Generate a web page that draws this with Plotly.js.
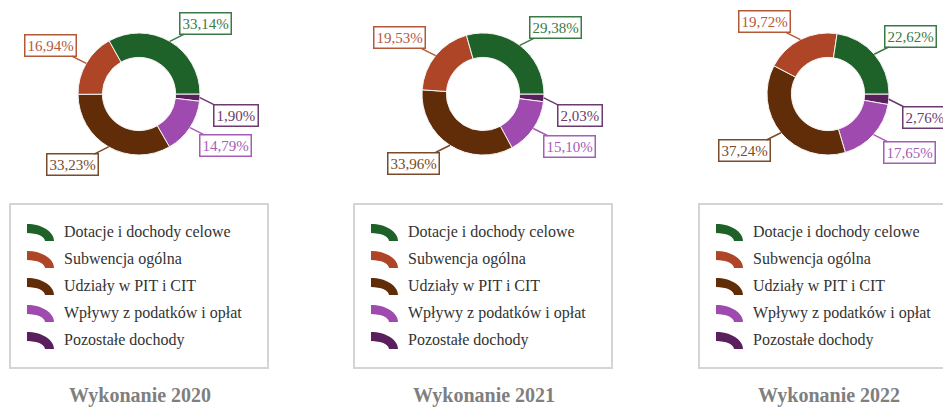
<!DOCTYPE html>
<html><head><meta charset="utf-8">
<script src="https://cdn.plot.ly/plotly-3.0.1.min.js"></script>
<style>html,body{margin:0;padding:0;background:#fff;} #chart{width:943px;height:407px;}</style>
</head><body><div id="chart"></div>
<script>
const categories = ["Dotacje i dochody celowe","Subwencja ogólna","Udziały w PIT i CIT","Wpływy z podatków i opłat","Pozostałe dochody"];
const years = ["Wykonanie 2020","Wykonanie 2021","Wykonanie 2022"];
const values2020 = [33.14,16.94,33.23,14.79,1.90];
const values2021 = [29.38,19.53,33.96,15.10,2.03];
const values2022 = [22.62,19.72,37.24,17.65,2.76];
const sliceColors = ['#1e6229','#ae4526','#612d08','#9e4aaf','#5a1f5d'];
const labelColors = ['#3a7a44','#b4583a','#7a4b2a','#a55db5','#6b3a6e'];

const W = 943, H = 407;
const px = x => x / W;
const py = y => 1 - y / H;
const centersX = [139, 483, 828];
const CY = 94, R = 61;
const series = [values2020, values2021, values2022];
const FONT = 'Liberation Serif, Times New Roman, serif';

const data = [];
const shapes = [];
const annotations = [];
const k = 0.5523;

series.forEach((vals, i) => {
  const cx = centersX[i];
  // drawn clockwise from 3 o'clock in reverse order == counterclockwise in original order
  data.push({
    type: 'pie', values: vals.slice().reverse(), labels: categories.slice().reverse(), sort: false,
    direction: 'clockwise', rotation: 90, hole: 0.6,
    textinfo: 'none', showlegend: false,
    marker: {colors: sliceColors.slice().reverse(), line: {color: '#f4f4f4', width: 1}},
    domain: {x: [px(cx - R), px(cx + R)], y: [py(CY + R), py(CY - R)]}
  });
  // value labels
  const total = vals.reduce((a, b) => a + b, 0);
  let cum = 0;
  vals.forEach((v, j) => {
    const mid = (cum + v / 2) / total * 2 * Math.PI;
    cum += v;
    const tx = cx + R * Math.cos(mid);
    const ty = CY - R * Math.sin(mid);
    annotations.push({
      xref: 'paper', yref: 'paper', x: px(tx), y: py(ty),
      ax: Math.sign(Math.cos(mid)) * 36, ay: -Math.sign(Math.sin(mid)) * 18,
      showarrow: true, arrowhead: 0, arrowwidth: 1.5, arrowcolor: labelColors[j], standoff: 0,
      text: v.toFixed(2).replace('.', ',') + '%',
      font: {family: FONT, size: 15, color: labelColors[j]},
      bgcolor: '#ffffff', bordercolor: labelColors[j], borderwidth: 1.5, borderpad: 2
    });
  });
  // legend box
  shapes.push({type: 'rect', xref: 'paper', yref: 'paper',
    x0: px(cx - 129), x1: px(cx + 129), y0: py(368), y1: py(204),
    line: {color: '#d4d4d4', width: 2}, fillcolor: 'rgba(0,0,0,0)'});
  categories.forEach((c, j) => {
    const top = 224 + 27 * j, bottom = top + 17, th = 9;
    const L = cx - 112, Rr = L + 27;
    const P = (x, y) => px(x).toFixed(5) + ',' + py(y).toFixed(5);
    const irx = 27 - th, iry = 17 - th;
    const path = 'M' + P(L, top) +
      ' C' + P(L + 27 * k, top) + ' ' + P(Rr, bottom - 17 * k) + ' ' + P(Rr, bottom) +
      ' L' + P(L + irx, bottom) +
      ' C' + P(L + irx, bottom - iry * k) + ' ' + P(L + irx * k, bottom - iry) + ' ' + P(L, bottom - iry) + ' Z';
    shapes.push({type: 'path', xref: 'paper', yref: 'paper', path: path,
      fillcolor: sliceColors[j], line: {width: 0}});
    annotations.push({xref: 'paper', yref: 'paper', x: px(cx - 77), y: py(232 + 27 * j),
      xanchor: 'left', yanchor: 'middle', showarrow: false, text: c,
      font: {family: FONT, size: 16, color: '#333333'}});
  });
  annotations.push({xref: 'paper', yref: 'paper', x: px(cx + 1), y: py(395),
    xanchor: 'center', yanchor: 'middle', showarrow: false, text: years[i],
    font: {family: FONT, size: 20, color: '#7f7f7f', weight: 700}});
});

Plotly.newPlot('chart', data, {
  width: W, height: H, margin: {l: 0, r: 0, t: 0, b: 0},
  paper_bgcolor: '#ffffff', plot_bgcolor: '#ffffff',
  showlegend: false, shapes: shapes, annotations: annotations
}, {displayModeBar: false, staticPlot: true});
</script></body></html>
